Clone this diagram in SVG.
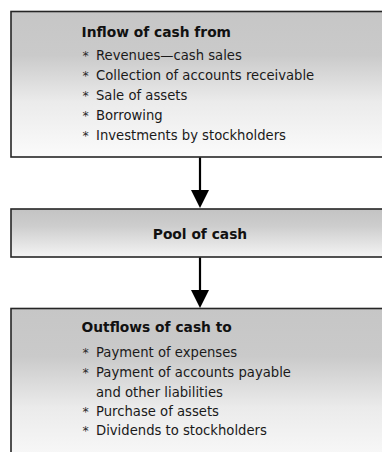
<svg xmlns="http://www.w3.org/2000/svg" width="382" height="452" viewBox="0 0 382 452">
<style>
.box{stroke:#262626;stroke-width:1.6}
.t{font-family:"DejaVu Sans","Verdana",sans-serif;font-size:13.2px;fill:#1a1a1a}
.b{font-family:"DejaVu Sans","Verdana",sans-serif;font-size:13.8px;font-weight:bold;fill:#111}
.ast{font-family:"DejaVu Sans",sans-serif;font-size:12.5px;fill:#2a2a2a}
.conn{stroke:#000;stroke-width:2.2;fill:none;marker-end:url(#ah)}
</style>
<defs>
<linearGradient id="gBig" x1="0" y1="0" x2="0" y2="1">
<stop offset="0" stop-color="#c6c6c6"/>
<stop offset="0.3" stop-color="#cacaca"/>
<stop offset="0.62" stop-color="#ebebeb"/>
<stop offset="1" stop-color="#fbfbfb"/>
</linearGradient>
<linearGradient id="gPool" x1="0" y1="0" x2="0" y2="1">
<stop offset="0" stop-color="#c3c3c3"/>
<stop offset="0.35" stop-color="#cdcdcd"/>
<stop offset="1" stop-color="#f4f4f4"/>
</linearGradient>
<marker id="ah" viewBox="0 0 18 18" refX="8" refY="9" markerWidth="18" markerHeight="18" markerUnits="userSpaceOnUse" orient="auto">
<path d="M0,0 L18,9 L0,18 Z" fill="#000"/>
</marker>
</defs>
<rect width="382" height="452" fill="#fff"/>
<g id="inflow">
<rect class="box" x="11" y="11.5" width="385" height="145.5" fill="url(#gBig)"/>
<text class="b" x="81.5" y="36.5">Inflow of cash from</text>
<text class="ast" x="82.5" y="60">*</text><text class="t" x="96" y="60">Revenues—cash sales</text>
<text class="ast" x="82.5" y="80">*</text><text class="t" x="96" y="80">Collection of accounts receivable</text>
<text class="ast" x="82.5" y="100">*</text><text class="t" x="96" y="100">Sale of assets</text>
<text class="ast" x="82.5" y="120">*</text><text class="t" x="96" y="120">Borrowing</text>
<text class="ast" x="82.5" y="140">*</text><text class="t" x="96" y="140">Investments by stockholders</text>
</g>
<g id="pool">
<rect class="box" x="11" y="209" width="385" height="48" fill="url(#gPool)"/>
<text class="b" x="200" y="239" text-anchor="middle">Pool of cash</text>
</g>
<g id="outflow">
<rect class="box" x="11" y="308.5" width="385" height="160" fill="url(#gBig)"/>
<text class="b" x="81.5" y="331.5">Outflows of cash to</text>
<text class="ast" x="82.5" y="357">*</text><text class="t" x="96" y="357">Payment of expenses</text>
<text class="ast" x="82.5" y="377">*</text><text class="t" x="96" y="377">Payment of accounts payable</text>
<text class="t" x="96" y="397">and other liabilities</text>
<text class="ast" x="82.5" y="416">*</text><text class="t" x="96" y="416">Purchase of assets</text>
<text class="ast" x="82.5" y="435">*</text><text class="t" x="96" y="435">Dividends to stockholders</text>
</g>
<g id="connectors">
<line class="conn" x1="200" y1="157.5" x2="200" y2="198"/>
<line class="conn" x1="200" y1="257.5" x2="200" y2="298"/>
</g>
</svg>
